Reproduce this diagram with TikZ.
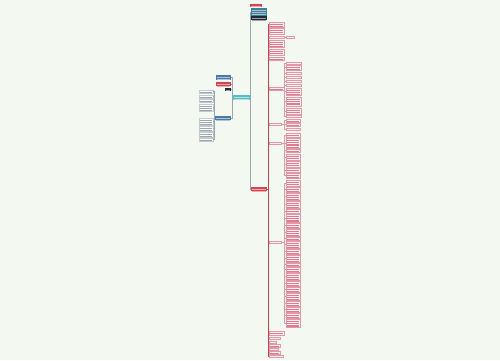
\documentclass[tikz,border=0pt]{standalone}
\usepackage{tikz}
\definecolor{bg}{HTML}{F3F9F0}
\definecolor{pinkb}{HTML}{E497A4}
\definecolor{pinkf}{HTML}{FDF1F3}
\definecolor{pinkt}{HTML}{E07A8C}
\definecolor{redc}{HTML}{D7424F}
\definecolor{redl}{HTML}{C8414F}
\definecolor{topc}{HTML}{3F7F95}
\definecolor{ctrc}{HTML}{56BFC6}
\definecolor{bluec}{HTML}{4C7AA8}
\definecolor{darkc}{HTML}{1F2B3A}
\definecolor{grayl}{HTML}{9AA5AD}
\definecolor{grayb}{HTML}{C3CACF}
\definecolor{grayt}{HTML}{9BA5AE}
\tikzset{
  lines/.style={path picture={\foreach \i in {1,...,8}{\draw[line width=0.6pt, #1] ([xshift=1.3pt,yshift=-\i*1.9pt-0.1pt]path picture bounding box.north west) -- ([xshift=-1.3pt,yshift=-\i*1.9pt-0.1pt]path picture bounding box.north east);}}},
  box/.style={inner sep=0pt, outer sep=0pt, anchor=north west},
  pb/.style={box, draw=pinkb, fill=pinkf, line width=0.35pt, lines=pinkt},
  gb/.style={box, draw=grayb, fill=white, line width=0.35pt, lines=grayt},
  cb/.style={box, fill=#1, draw=none, lines={white!55!#1, line width=0.4pt}},
  rl/.style={draw=redl, line width=0.5pt},
  rl2/.style={draw=pinkb, line width=0.45pt},
  gl/.style={draw=grayl, line width=0.5pt},
}
\newcommand\bx[6]{\node[#6, minimum width={(#4-#2)*1pt}, minimum height={(#5-#3)*1pt}] (#1) at (#2,#3) {};}
\begin{document}
\begin{tikzpicture}[x=1pt,y=-1pt]
\fill[bg] (0,0) rectangle (500,360);
\useasboundingbox (0,0) rectangle (500,360);

% centre and main branches
\bx{ctr}{233}{95}{250}{100}{cb=ctrc}
\bx{tag}{250}{4}{262}{7}{cb=redc}
\bx{top}{251}{8}{267}{16}{cb=topc}
\bx{topbar}{251}{16}{267}{20}{cb=darkc}
\bx{red}{251}{187}{267}{191}{cb=redc}
\draw[gl] (ctr.east) -| ([xshift=-1pt]top.west) -- (top.west);
\draw[gl] (ctr.east) -| ([xshift=-1pt]red.west) -- (red.west);

% left side
\bx{lb1}{216}{75}{231}{80}{cb=bluec}
\bx{lr1}{216}{82}{231}{86}{cb=redc}
\bx{ld1}{225}{88}{231}{91}{cb=darkc}
\bx{lb2}{215}{116}{231}{120}{cb=bluec}
\foreach \n in {lb1,lr1,ld1,lb2}{\draw[gl] (ctr.west) -| ([xshift=1pt]\n.east) -- (\n.east);}
\foreach \a/\b [count=\k] in {90/93,95/98,99/102,104/111,118/125,126/131,132/137,138/141}{
  \bx{g\k}{199}{\a}{213}{\b}{gb}
  \draw[gl] (lb2.west) -| ([xshift=1pt]g\k.east) -- (g\k.east);
}

% right side, first column
\bx{c1}{269}{22}{284}{27}{pb}
\bx{c2}{269}{28}{284}{34}{pb}
\bx{c3}{269}{36}{284}{38.5}{pb}
\bx{c4}{269}{40}{284}{47}{pb}
\bx{c5}{269}{49}{284}{55}{pb}
\bx{c6}{269}{57}{284}{60}{pb}
\bx{c7}{269}{87}{284}{90}{pb}
\bx{c8}{269}{123}{281}{125.5}{pb}
\bx{c9}{269}{142}{281}{144.5}{pb}
\bx{c10}{269}{241}{281}{243.5}{pb}
\foreach \a/\b/\w [count=\k] in {331/335/284,337/339.5/280,341/343.5/276,344.5/347/280,348/350.5/278,351.5/354/280,355/357.5/283}{
  \bx{b\k}{269}{\a}{\w}{\b}{pb}
}
\foreach \n in {c1,c2,c3,c4,c5,c6,c7,c8,c9,c10,b1,b2,b3,b4,b5,b6,b7}{\draw[rl] (red.east) -| ([xshift=-1pt]\n.west) -- (\n.west);}

% second column
\bx{a1}{286}{36}{294}{38.5}{pb}
\draw[rl2] (c3.east) -- (a1.west);
\foreach \a/\b [count=\k] in {62/64.5,65/70,72/74.5,76/78.5,80/82.5,84/86.5,88/95,97/106,108/114,115/117.5}{
  \bx{A\k}{286}{\a}{301}{\b}{pb}
  \draw[rl2] (c7.east) -| ([xshift=-1.5pt]A\k.west) -- (A\k.west);
}
\foreach \a/\b [count=\k] in {119/122,123/126,128/130.5}{
  \bx{B\k}{286}{\a}{300}{\b}{pb}
  \draw[rl2] (c8.east) -| ([xshift=-1.5pt]B\k.west) -- (B\k.west);
}
\foreach \a/\b [count=\k] in {133/137,138/148,149/152,154/160,161/167,168/172,173/178}{
  \bx{C\k}{286}{\a}{300}{\b}{pb}
  \draw[rl2] (c9.east) -| ([xshift=-1.5pt]C\k.west) -- (C\k.west);
}
\foreach \a/\b [count=\k] in {180/186,187/192,193/200,201/208,209/213,214/222,223/228,229/236,237/240,241/248,249/254,255/262,263/266,267/272,273/280,281/286,287/292,293/300,301/306,307/312,313/318,319/327}{
  \bx{D\k}{286}{\a}{300}{\b}{pb}
  \draw[rl2] (c10.east) -| ([xshift=-1.5pt]D\k.west) -- (D\k.west);
}
\end{tikzpicture}
\end{document}
